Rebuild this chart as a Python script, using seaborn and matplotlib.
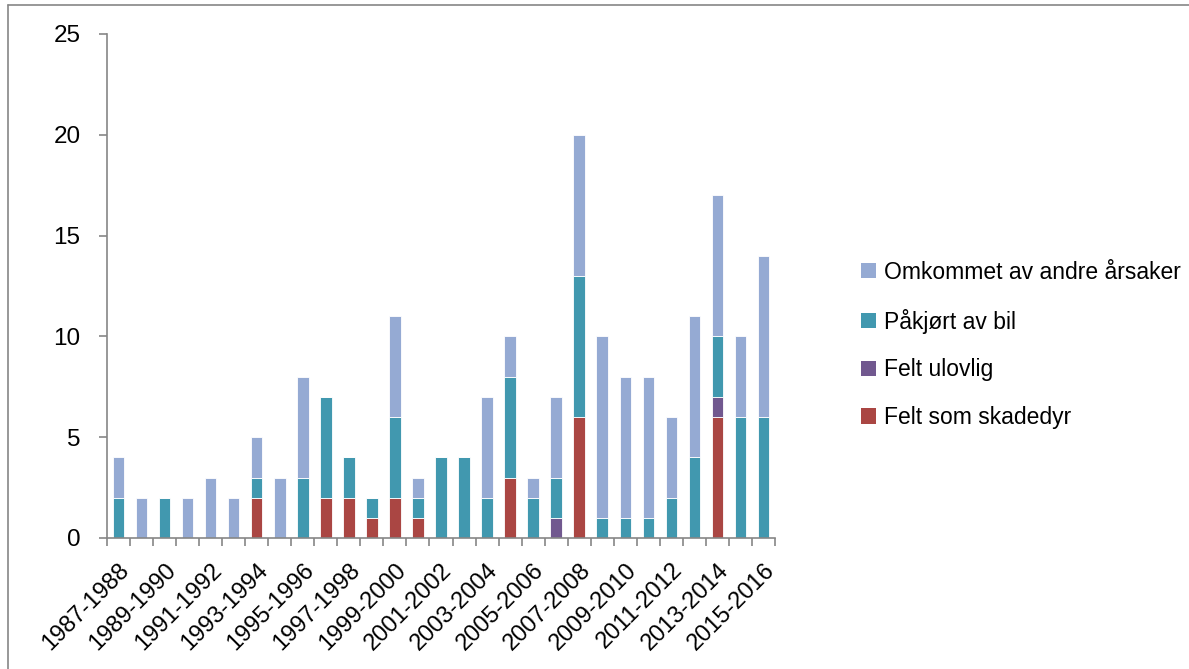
import numpy as np
import pandas as pd
import matplotlib
matplotlib.use("Agg")
import matplotlib.pyplot as plt
from matplotlib.lines import Line2D
from matplotlib.patches import Patch
import seaborn as sns

seasons = [f"{y}-{y+1}" for y in range(1987, 2016)]

skadedyr = [0, 0, 0, 0, 0, 0, 2, 0, 0, 2, 2, 1, 2, 1, 0, 0, 0, 3, 0, 0, 6, 0, 0, 0, 0, 0, 6, 0, 0]
ulovlig  = [0, 0, 0, 0, 0, 0, 0, 0, 0, 0, 0, 0, 0, 0, 0, 0, 0, 0, 0, 1, 0, 0, 0, 0, 0, 0, 1, 0, 0]
bil      = [2, 0, 2, 0, 0, 0, 1, 0, 3, 5, 2, 1, 4, 1, 4, 4, 2, 5, 2, 2, 7, 1, 1, 1, 2, 4, 3, 6, 6]
andre    = [2, 2, 0, 2, 3, 2, 2, 3, 5, 0, 0, 0, 5, 1, 0, 0, 5, 2, 1, 4, 7, 9, 7, 7, 4, 7, 7, 4, 8]

series_names = ["Felt som skadedyr", "Felt ulovlig", "Påkjørt av bil", "Omkommet av andre årsaker"]
series_vals = [skadedyr, ulovlig, bil, andre]
colors = ["#AA4643", "#71588F", "#4198AF", "#95AAD3"]

sns.set_theme(style="white")
plt.rcParams["font.family"] = ["Liberation Sans", "DejaVu Sans"]
plt.rcParams["text.color"] = "black"
plt.rcParams["xtick.color"] = "black"
plt.rcParams["ytick.color"] = "black"

fig = plt.figure(figsize=(11.89, 6.69), dpi=100)
ax = fig.add_axes([107/1189, 1-538/669, (775-107)/1189, (538-34)/669])

bottom = np.zeros(len(seasons))
for name, vals, c in zip(series_names, series_vals, colors):
    v = np.array(vals, dtype=float)
    sns.barplot(x=seasons, y=v, bottom=bottom, color=c, width=0.5,
                edgecolor="white", linewidth=0.6, saturation=1, ax=ax)
    bottom = bottom + v

ax.set_ylim(0, 25)
ax.set_xlim(-0.5, len(seasons) - 0.5)
ax.set_yticks([0, 5, 10, 15, 20, 25])
ax.set_xticks(range(0, len(seasons), 2))
ax.set_xticklabels(seasons[::2], rotation=45, ha="right", rotation_mode="anchor")
ax.set_xticks(np.arange(-0.5, len(seasons), 1), minor=True)

for s in ["top", "right"]:
    ax.spines[s].set_visible(False)
for s in ["left", "bottom"]:
    ax.spines[s].set_color("#868686")
    ax.spines[s].set_linewidth(1.2)

ax.tick_params(axis="y", which="major", direction="out", length=6, width=1.2,
               color="#868686", labelcolor="black", labelsize=17.5, pad=13, left=True)
ax.tick_params(axis="x", which="major", length=0, labelsize=17, labelcolor="black", pad=15)
ax.tick_params(axis="x", which="minor", direction="out", length=6, width=1.2,
               color="#868686", bottom=True)
ax.set_xlabel("")
ax.set_ylabel("")
ax.grid(False)

handles = [Patch(facecolor=c, edgecolor="none") for c in colors][::-1]
labels = series_names[::-1]
leg = fig.legend(handles, labels, loc="center left", bbox_to_anchor=(840/1189, 1-345/669),
                 frameon=False, fontsize=16.5, handlelength=0.65, handleheight=0.65,
                 handletextpad=0.35, labelspacing=1.08)
for t in leg.get_texts():
    t.set_color("black")

# outer chart border
fig.add_artist(Line2D([8/1189, 1.0], [1-5/669, 1-5/669], transform=fig.transFigure,
                      color="#868686", linewidth=1.2))
fig.add_artist(Line2D([8/1189, 8/1189], [0.0, 1-5/669], transform=fig.transFigure,
                      color="#868686", linewidth=1.2))

fig.savefig("out.png", dpi=100, facecolor="white")
